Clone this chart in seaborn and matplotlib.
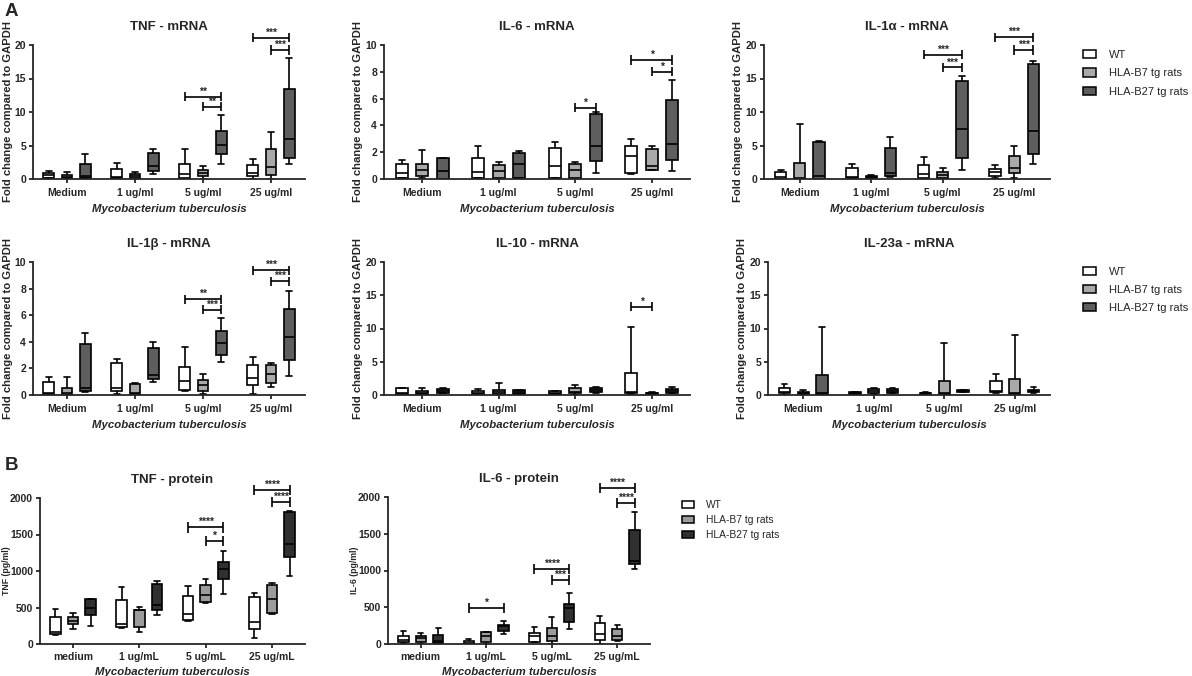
# Cytokine expression in splenocytes after Mycobacterium tuberculosis stimulation
# Box plots (min to max whiskers) with seaborn, laid out like the Prism figure

import matplotlib
matplotlib.use("Agg")
import matplotlib.pyplot as plt
import pandas as pd
import seaborn as sns
from matplotlib.patches import Patch

groups = ["WT", "HLA-B7 tg rats", "HLA-B27 tg rats"]
doses_mrna = ["Medium", "1 ug/ml", "5 ug/ml", "25 ug/ml"]
doses_prot = ["medium", "1 ug/mL", "5 ug/mL", "25 ug/mL"]

# each box: min, q1, median, q3, max  (one box per dose)
tnf_mrna = {
    "WT": [[0.1, 0.2, 0.55, 0.85, 1.15], [0.1, 0.2, 0.3, 1.5, 2.45],
           [0.05, 0.2, 0.8, 2.25, 4.45], [0.05, 0.4, 0.9, 2.15, 3.0]],
    "HLA-B7 tg rats": [[0.0, 0.1, 0.3, 0.65, 1.0], [0.05, 0.15, 0.4, 0.75, 1.0],
                       [0.05, 0.4, 0.85, 1.3, 2.0], [0.0, 0.6, 1.8, 4.5, 7.05]],
    "HLA-B27 tg rats": [[0.1, 0.2, 0.5, 2.25, 3.8], [0.8, 1.15, 1.9, 3.9, 4.5],
                        [2.2, 3.8, 5.1, 7.2, 9.5], [2.2, 3.1, 5.95, 13.4, 18.0]],
}
il6_mrna = {
    "WT": [[0.05, 0.08, 0.45, 1.1, 1.45], [0.05, 0.07, 0.52, 1.6, 2.5],
           [0.05, 0.07, 1.0, 2.28, 2.75], [0.4, 0.45, 1.69, 2.48, 3.0]],
    "HLA-B7 tg rats": [[0.05, 0.2, 0.65, 1.15, 2.15], [0.03, 0.07, 0.57, 1.05, 1.25],
                       [0.03, 0.07, 0.7, 1.09, 1.25], [0.65, 0.7, 0.94, 2.23, 2.43]],
    "HLA-B27 tg rats": [[0.0, 0.02, 0.57, 1.55, 1.6], [0.05, 0.07, 1.12, 1.93, 2.1],
                        [0.42, 1.37, 2.5, 4.84, 5.0], [0.62, 1.44, 2.6, 5.9, 7.4]],
}
il1a_mrna = {
    "WT": [[0.0, 0.05, 0.3, 1.0, 1.3], [0.0, 0.1, 0.25, 1.65, 2.2],
           [0.05, 0.15, 0.75, 2.05, 3.3], [0.15, 0.4, 1.0, 1.5, 2.15]],
    "HLA-B7 tg rats": [[0.0, 0.02, 0.1, 2.4, 8.15], [0.05, 0.15, 0.3, 0.5, 0.65],
                       [0.05, 0.15, 0.6, 1.0, 1.7], [0.15, 0.9, 1.65, 3.4, 4.9]],
    "HLA-B27 tg rats": [[0.0, 0.05, 0.5, 5.5, 5.65], [0.25, 0.4, 0.9, 4.65, 6.3],
                        [1.4, 3.15, 7.4, 14.6, 15.3], [2.25, 3.8, 7.15, 17.1, 17.65]],
}
il1b_mrna = {
    "WT": [[0.03, 0.07, 0.15, 1.0, 1.37], [0.07, 0.32, 0.5, 2.42, 2.67],
           [0.32, 0.37, 1.07, 2.07, 3.62], [0.05, 0.75, 1.25, 2.25, 2.87]],
    "HLA-B7 tg rats": [[0.0, 0.03, 0.12, 0.55, 1.35], [0.02, 0.07, 0.17, 0.82, 0.92],
                       [0.07, 0.32, 0.77, 1.12, 1.55], [0.62, 0.87, 1.57, 2.22, 2.37]],
    "HLA-B27 tg rats": [[0.25, 0.32, 0.55, 3.82, 4.67], [0.95, 1.17, 1.5, 3.57, 4.0],
                        [2.5, 2.97, 3.9, 4.8, 5.8], [1.42, 2.62, 4.37, 6.45, 7.82]],
}
il10_mrna = {
    "WT": [[0.05, 0.15, 0.35, 1.0, 1.1], [0.0, 0.15, 0.25, 0.55, 0.95],
           [0.1, 0.15, 0.3, 0.55, 0.65], [0.1, 0.25, 0.5, 3.35, 10.3]],
    "HLA-B7 tg rats": [[0.0, 0.15, 0.35, 0.65, 1.0], [0.05, 0.15, 0.4, 0.8, 1.85],
                       [0.05, 0.25, 0.5, 1.05, 1.5], [0.1, 0.15, 0.25, 0.35, 0.4]],
    "HLA-B27 tg rats": [[0.25, 0.35, 0.65, 0.95, 1.1], [0.15, 0.2, 0.45, 0.7, 0.75],
                        [0.35, 0.4, 0.75, 1.05, 1.15], [0.25, 0.35, 0.65, 0.9, 1.25]],
}
il23a_mrna = {
    "WT": [[0.05, 0.25, 0.5, 1.0, 1.6], [0.1, 0.15, 0.25, 0.4, 0.5],
           [0.1, 0.15, 0.25, 0.35, 0.38], [0.25, 0.4, 0.65, 2.1, 3.15]],
    "HLA-B7 tg rats": [[0.0, 0.15, 0.35, 0.5, 0.75], [0.15, 0.25, 0.6, 0.95, 1.1],
                       [0.05, 0.15, 0.25, 2.15, 7.8], [0.05, 0.15, 0.25, 2.4, 9.0]],
    "HLA-B27 tg rats": [[0.05, 0.15, 0.35, 2.95, 10.2], [0.3, 0.35, 0.65, 0.85, 1.0],
                        [0.45, 0.5, 0.65, 0.75, 0.8], [0.35, 0.5, 0.65, 0.8, 1.15]],
}
tnf_prot = {
    "WT": [[124, 137, 169, 366, 476], [215, 229, 270, 604, 778],
           [320, 329, 407, 659, 796], [78, 206, 307, 641, 705]],
    "HLA-B7 tg rats": [[206, 270, 320, 371, 421], [169, 229, 460, 467, 512],
                       [567, 576, 672, 810, 888], [412, 421, 622, 810, 833]],
    "HLA-B27 tg rats": [[252, 398, 494, 610, 615], [398, 467, 540, 823, 869],
                        [682, 892, 1023, 1130, 1277], [933, 1185, 1368, 1803, 1816]],
}
il6_prot = {
    "WT": [[14, 23, 54, 113, 172], [0, 5, 18, 41, 68],
           [23, 32, 104, 145, 226], [5, 50, 136, 290, 376]],
    "HLA-B7 tg rats": [[0, 32, 81, 113, 145], [0, 32, 113, 158, 167],
                       [0, 36, 109, 217, 371], [36, 59, 113, 199, 262]],
    "HLA-B27 tg rats": [[0, 9, 45, 127, 217], [136, 172, 240, 262, 308],
                        [204, 294, 484, 543, 692], [1014, 1095, 1131, 1552, 1801]],
}

# significance brackets: (dose index, group a, group b, height, label)
sig_tnf_mrna = [(2, 0, 2, 12.3, "**"), (2, 1, 2, 10.8, "**"),
                (3, 0, 2, 21.1, "***"), (3, 1, 2, 19.25, "***")]
sig_il6_mrna = [(2, 1, 2, 5.33, "*"), (3, 0, 2, 8.88, "*"), (3, 1, 2, 8.0, "*")]
sig_il1a_mrna = [(2, 0, 2, 18.55, "***"), (2, 1, 2, 16.65, "***"),
                 (3, 0, 2, 21.15, "***"), (3, 1, 2, 19.25, "***")]
sig_il1b_mrna = [(2, 0, 2, 7.2, "**"), (2, 1, 2, 6.42, "***"),
                 (3, 0, 2, 9.37, "***"), (3, 1, 2, 8.55, "***")]
sig_il10_mrna = [(3, 0, 1, 13.3, "*")]
sig_tnf_prot = [(2, 0, 2, 1597, "****"), (2, 1, 2, 1414, "*"),
                (3, 0, 2, 2105, "****"), (3, 1, 2, 1940, "****")]
sig_il6_prot = [(1, 0, 2, 489, "*"), (2, 0, 2, 1018, "****"), (2, 1, 2, 869, "***"),
                (3, 0, 2, 2127, "****"), (3, 1, 2, 1919, "****")]

mrna_colors = dict(zip(groups, ["#ffffff", "#a9a9a9", "#5e5e5e"]))
prot_colors = dict(zip(groups, ["#ffffff", "#9c9c9c", "#303030"]))

sns.set_style("ticks")
plt.rcParams["font.family"] = ["Liberation Sans", "DejaVu Sans"]
plt.rcParams["axes.linewidth"] = 1.3
plt.rcParams["xtick.major.width"] = 1.3
plt.rcParams["ytick.major.width"] = 1.3
plt.rcParams["xtick.major.size"] = 3
plt.rcParams["ytick.major.size"] = 3

W, H = 1192, 676
fig = plt.figure(figsize=(W / 100, H / 100), dpi=100)


def add_ax(x0, y0, x1, y1):
    return fig.add_axes([x0 / W, 1 - y1 / H, (x1 - x0) / W, (y1 - y0) / H])


def long_table(summary, doses):
    rows = []
    for g in groups:
        for dose, box in zip(doses, summary[g]):
            for v in box:
                rows.append({"dose": dose, "group": g, "value": v})
    return pd.DataFrame(rows)


def bracket(ax, dose, ga, gb, y, label, ymax):
    offs = [-0.8 / 3, 0, 0.8 / 3]
    x1, x2 = dose + offs[ga], dose + offs[gb]
    d = ymax * 0.035
    kw = dict(color="black", lw=1.2, clip_on=False, solid_capstyle="butt")
    ax.plot([x1, x2], [y, y], **kw)
    ax.plot([x1, x1], [y - d, y + d], **kw)
    ax.plot([x2, x2], [y - d, y + d], **kw)
    ax.annotate(label, ((x1 + x2) / 2, y), xytext=(0, 1.5), textcoords="offset points",
                ha="center", va="baseline", fontsize=7.5, fontweight="bold",
                annotation_clip=False)


def panel(box, summary, doses, colors, title, ymax, ystep, ylabel, sigs,
          lab_off, lab_size, xpad):
    ax = add_ax(*box)
    df = long_table(summary, doses)
    sns.boxplot(data=df, x="dose", y="value", hue="group", hue_order=groups,
                order=doses, palette=colors, whis=(0, 100), showfliers=False,
                width=0.8, gap=0.4, saturation=1, linecolor="black",
                linewidth=1.2, legend=False, ax=ax)
    ax.set_xlim(-0.5, 3.5)
    ax.set_ylim(0, ymax)
    ax.set_yticks(range(0, int(ymax) + 1, ystep))
    sns.despine(ax=ax)
    ax.set_title(title, fontsize=9.5, fontweight="bold", pad=11)
    ax.set_ylabel(ylabel, fontsize=lab_size, fontweight="bold")
    ax.yaxis.set_label_coords(-lab_off / (box[2] - box[0]), 0.5)
    ax.set_xlabel("Mycobacterium tuberculosis", fontsize=8.2,
                  fontweight="bold", fontstyle="italic", labelpad=4)
    for lab in ax.get_xticklabels() + ax.get_yticklabels():
        lab.set_fontweight("bold")
        lab.set_fontsize(7.5)
    ax.tick_params(axis="y", pad=2)
    ax.tick_params(axis="x", pad=xpad)
    for s in sigs:
        bracket(ax, *s, ymax)
    return ax


fold = "Fold change compared to GAPDH"
panel((33, 45, 305, 179), tnf_mrna, doses_mrna, mrna_colors, "TNF - mRNA", 20, 5, fold, sig_tnf_mrna, 20, 8.1, 3.5)
panel((384, 45, 690, 179), il6_mrna, doses_mrna, mrna_colors, "IL-6 - mRNA", 10, 2, fold, sig_il6_mrna, 21, 8.1, 3.5)
panel((764, 45, 1050, 179), il1a_mrna, doses_mrna, mrna_colors, "IL-1\u03b1 - mRNA", 20, 5, fold, sig_il1a_mrna, 21, 8.1, 3.5)
panel((33, 262, 305, 395), il1b_mrna, doses_mrna, mrna_colors, "IL-1\u03b2 - mRNA", 10, 2, fold, sig_il1b_mrna, 20, 8.1, 3.5)
panel((384, 262, 690, 395), il10_mrna, doses_mrna, mrna_colors, "IL-10 - mRNA", 20, 5, fold, sig_il10_mrna, 21, 8.1, 3.5)
panel((768, 262, 1050, 395), il23a_mrna, doses_mrna, mrna_colors, "IL-23a - mRNA", 20, 5, fold, [], 21, 8.1, 3.5)
panel((40, 498, 305, 644), tnf_prot, doses_prot, prot_colors, "TNF - protein", 2000, 500, "TNF (pg/ml)", sig_tnf_prot, 29, 6.3, 2.5)
panel((388, 497, 650, 644), il6_prot, doses_prot, prot_colors, "IL-6 - protein", 2000, 500, "IL-6 (pg/ml)", sig_il6_prot, 29, 6.3, 2.5)


def legend(colors, x, y, fs, spacing):
    handles = [Patch(facecolor=colors[g], edgecolor="black", linewidth=1.1) for g in groups]
    fig.legend(handles, groups, loc="upper left", bbox_to_anchor=(x / W, 1 - y / H),
               frameon=False, fontsize=fs, borderpad=0, borderaxespad=0,
               handlelength=1.2, handleheight=0.75, handletextpad=1.1,
               labelspacing=spacing)


legend(mrna_colors, 1083, 50, 8.0, 0.75)
legend(mrna_colors, 1083, 267, 8.0, 0.72)
legend(prot_colors, 682, 500, 7.4, 0.5)

fig.text(5 / W, 1 - 3 / H, "A", fontsize=13.5, fontweight="bold", va="top")
fig.text(5 / W, 1 - 457 / H, "B", fontsize=13.5, fontweight="bold", va="top")

fig.savefig("out.png", dpi=100)
